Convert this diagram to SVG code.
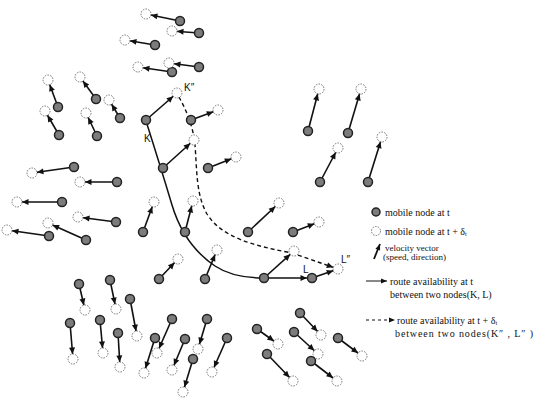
<svg xmlns="http://www.w3.org/2000/svg" width="536" height="398" viewBox="0 0 536 398">
<style>
.v{stroke:#111;stroke-width:1.6;fill:none;marker-end:url(#ah)}
.f{fill:#7c7c7c;stroke:#222;stroke-width:1.5}
.h{fill:#fff;stroke:#777;stroke-width:1;stroke-dasharray:1.6 1.2}
.lb{font-family:"Liberation Sans",Arial,sans-serif;font-size:10px;fill:#111}
.lg{font-family:"Liberation Serif","Times New Roman",serif;font-size:10px;fill:#111}
.sm{font-size:9px}
</style>
<defs>
<marker id="ah" markerUnits="userSpaceOnUse" markerWidth="14" markerHeight="8" refX="11.5" refY="3" orient="auto" overflow="visible"><path d="M0,0 L6.5,3 L0,6 z" fill="#111"/></marker>
<marker id="al" markerUnits="userSpaceOnUse" markerWidth="8" markerHeight="8" refX="6" refY="2.5" orient="auto" overflow="visible"><path d="M0,0 L6,2.5 L0,5 z" fill="#111"/></marker>
</defs>
<g id="connectors">
<line class="v" x1="180" y1="21" x2="146" y2="14"/>
<line class="v" x1="199" y1="33" x2="172" y2="31"/>
<line class="v" x1="155" y1="45" x2="125" y2="40"/>
<line class="v" x1="172" y1="72" x2="138" y2="67"/>
<line class="v" x1="199" y1="67" x2="169" y2="63"/>
<line class="v" x1="58" y1="107" x2="48" y2="80"/>
<line class="v" x1="96" y1="99" x2="80" y2="77"/>
<line class="v" x1="120" y1="118" x2="109" y2="100"/>
<line class="v" x1="59" y1="135" x2="45" y2="111"/>
<line class="v" x1="97" y1="136" x2="86" y2="113"/>
<line class="v" x1="74" y1="167" x2="32" y2="173"/>
<line class="v" x1="117" y1="182" x2="80" y2="182"/>
<line class="v" x1="62" y1="202" x2="17" y2="202"/>
<line class="v" x1="116" y1="222" x2="78" y2="217"/>
<line class="v" x1="86" y1="240" x2="48" y2="223"/>
<line class="v" x1="49" y1="236" x2="7" y2="230"/>
<line class="v" x1="146" y1="120" x2="177" y2="93"/>
<line class="v" x1="191" y1="120" x2="218" y2="110"/>
<line class="v" x1="163" y1="168" x2="194" y2="140"/>
<line class="v" x1="208" y1="168" x2="236" y2="157"/>
<line class="v" x1="143" y1="232" x2="154" y2="202"/>
<line class="v" x1="185" y1="232" x2="193" y2="201"/>
<line class="v" x1="248" y1="232" x2="279" y2="203"/>
<line class="v" x1="293" y1="232" x2="319" y2="222"/>
<line class="v" x1="159" y1="279" x2="178" y2="259"/>
<line class="v" x1="205" y1="279" x2="217" y2="250"/>
<line class="v" x1="264" y1="278" x2="294" y2="251"/>
<line class="v" x1="312" y1="278" x2="338" y2="269"/>
<line class="v" x1="308" y1="131" x2="319" y2="89"/>
<line class="v" x1="348" y1="133" x2="361" y2="89"/>
<line class="v" x1="320" y1="182" x2="338" y2="148"/>
<line class="v" x1="368" y1="182" x2="382" y2="137"/>
<line class="v" x1="79" y1="284" x2="85" y2="310"/>
<line class="v" x1="110" y1="280" x2="116" y2="309"/>
<line class="v" x1="130" y1="299" x2="137" y2="336"/>
<line class="v" x1="70" y1="323" x2="73" y2="359"/>
<line class="v" x1="100" y1="320" x2="103" y2="353"/>
<line class="v" x1="118" y1="333" x2="120" y2="367"/>
<line class="v" x1="172" y1="319" x2="157" y2="353"/>
<line class="v" x1="155" y1="338" x2="144" y2="373"/>
<line class="v" x1="185" y1="339" x2="172" y2="370"/>
<line class="v" x1="207" y1="319" x2="198" y2="349"/>
<line class="v" x1="193" y1="359" x2="183" y2="392"/>
<line class="v" x1="227" y1="338" x2="212" y2="372"/>
<line class="v" x1="257" y1="329" x2="278" y2="344"/>
<line class="v" x1="267" y1="354" x2="293" y2="381"/>
<line class="v" x1="300" y1="313" x2="321" y2="335"/>
<line class="v" x1="294" y1="332" x2="318" y2="354"/>
<line class="v" x1="311" y1="361" x2="337" y2="381"/>
<line class="v" x1="338" y1="338" x2="362" y2="356"/>
<path d="M146,121 Q160,165 172,205 T215,266 C230,276 248,278 264,278" fill="none" stroke="#111" stroke-width="1.5"/>
<line class="v" x1="264" y1="278" x2="312" y2="278" stroke-width="1.5"/>
<path d="M179,97 C186,110 193,125 195,145 C197,170 196,195 207,214 C222,238 255,246 292,253 L338,269" fill="none" stroke="#111" stroke-width="1.4" stroke-dasharray="4 3" marker-end="url(#ah)"/>
</g>
<g id="m1"><circle class="f" cx="180" cy="21" r="4.5"/><circle class="h" cx="146" cy="14" r="5"/></g>
<g id="m2"><circle class="f" cx="199" cy="33" r="4.5"/><circle class="h" cx="172" cy="31" r="5"/></g>
<g id="m3"><circle class="f" cx="155" cy="45" r="4.5"/><circle class="h" cx="125" cy="40" r="5"/></g>
<g id="m4"><circle class="f" cx="172" cy="72" r="4.5"/><circle class="h" cx="138" cy="67" r="5"/></g>
<g id="m5"><circle class="f" cx="199" cy="67" r="4.5"/><circle class="h" cx="169" cy="63" r="5"/></g>
<g id="m6"><circle class="f" cx="58" cy="107" r="4.5"/><circle class="h" cx="48" cy="80" r="5"/></g>
<g id="m7"><circle class="f" cx="96" cy="99" r="4.5"/><circle class="h" cx="80" cy="77" r="5"/></g>
<g id="m8"><circle class="f" cx="120" cy="118" r="4.5"/><circle class="h" cx="109" cy="100" r="5"/></g>
<g id="m9"><circle class="f" cx="59" cy="135" r="4.5"/><circle class="h" cx="45" cy="111" r="5"/></g>
<g id="m10"><circle class="f" cx="97" cy="136" r="4.5"/><circle class="h" cx="86" cy="113" r="5"/></g>
<g id="m11"><circle class="f" cx="74" cy="167" r="4.5"/><circle class="h" cx="32" cy="173" r="5"/></g>
<g id="m12"><circle class="f" cx="117" cy="182" r="4.5"/><circle class="h" cx="80" cy="182" r="5"/></g>
<g id="m13"><circle class="f" cx="62" cy="202" r="4.5"/><circle class="h" cx="17" cy="202" r="5"/></g>
<g id="m14"><circle class="f" cx="116" cy="222" r="4.5"/><circle class="h" cx="78" cy="217" r="5"/></g>
<g id="m15"><circle class="f" cx="86" cy="240" r="4.5"/><circle class="h" cx="48" cy="223" r="5"/></g>
<g id="m16"><circle class="f" cx="49" cy="236" r="4.5"/><circle class="h" cx="7" cy="230" r="5"/></g>
<g id="nodeK"><circle class="f" cx="146" cy="120" r="4.5"/><circle class="h" cx="177" cy="93" r="5"/><text class="lb" x="184" y="91">K″</text><text class="lb" x="144" y="142">K</text></g>
<g id="m18"><circle class="f" cx="191" cy="120" r="4.5"/><circle class="h" cx="218" cy="110" r="5"/></g>
<g id="m19"><circle class="f" cx="163" cy="168" r="4.5"/><circle class="h" cx="194" cy="140" r="5"/></g>
<g id="m20"><circle class="f" cx="208" cy="168" r="4.5"/><circle class="h" cx="236" cy="157" r="5"/></g>
<g id="m21"><circle class="f" cx="143" cy="232" r="4.5"/><circle class="h" cx="154" cy="202" r="5"/></g>
<g id="m22"><circle class="f" cx="185" cy="232" r="4.5"/><circle class="h" cx="193" cy="201" r="5"/></g>
<g id="m23"><circle class="f" cx="248" cy="232" r="4.5"/><circle class="h" cx="279" cy="203" r="5"/></g>
<g id="m24"><circle class="f" cx="293" cy="232" r="4.5"/><circle class="h" cx="319" cy="222" r="5"/></g>
<g id="m25"><circle class="f" cx="159" cy="279" r="4.5"/><circle class="h" cx="178" cy="259" r="5"/></g>
<g id="m26"><circle class="f" cx="205" cy="279" r="4.5"/><circle class="h" cx="217" cy="250" r="5"/></g>
<g id="m27"><circle class="f" cx="264" cy="278" r="4.5"/><circle class="h" cx="294" cy="251" r="5"/></g>
<g id="nodeL"><circle class="f" cx="312" cy="278" r="4.5"/><circle class="h" cx="338" cy="269" r="5"/><text class="lb" x="303" y="273">L</text><text class="lb" x="341" y="263">L″</text></g>
<g id="m29"><circle class="f" cx="308" cy="131" r="4.5"/><circle class="h" cx="319" cy="89" r="5"/></g>
<g id="m30"><circle class="f" cx="348" cy="133" r="4.5"/><circle class="h" cx="361" cy="89" r="5"/></g>
<g id="m31"><circle class="f" cx="320" cy="182" r="4.5"/><circle class="h" cx="338" cy="148" r="5"/></g>
<g id="m32"><circle class="f" cx="368" cy="182" r="4.5"/><circle class="h" cx="382" cy="137" r="5"/></g>
<g id="m33"><circle class="f" cx="79" cy="284" r="4.5"/><circle class="h" cx="85" cy="310" r="5"/></g>
<g id="m34"><circle class="f" cx="110" cy="280" r="4.5"/><circle class="h" cx="116" cy="309" r="5"/></g>
<g id="m35"><circle class="f" cx="130" cy="299" r="4.5"/><circle class="h" cx="137" cy="336" r="5"/></g>
<g id="m36"><circle class="f" cx="70" cy="323" r="4.5"/><circle class="h" cx="73" cy="359" r="5"/></g>
<g id="m37"><circle class="f" cx="100" cy="320" r="4.5"/><circle class="h" cx="103" cy="353" r="5"/></g>
<g id="m38"><circle class="f" cx="118" cy="333" r="4.5"/><circle class="h" cx="120" cy="367" r="5"/></g>
<g id="m39"><circle class="f" cx="172" cy="319" r="4.5"/><circle class="h" cx="157" cy="353" r="5"/></g>
<g id="m40"><circle class="f" cx="155" cy="338" r="4.5"/><circle class="h" cx="144" cy="373" r="5"/></g>
<g id="m41"><circle class="f" cx="185" cy="339" r="4.5"/><circle class="h" cx="172" cy="370" r="5"/></g>
<g id="m42"><circle class="f" cx="207" cy="319" r="4.5"/><circle class="h" cx="198" cy="349" r="5"/></g>
<g id="m43"><circle class="f" cx="193" cy="359" r="4.5"/><circle class="h" cx="183" cy="392" r="5"/></g>
<g id="m44"><circle class="f" cx="227" cy="338" r="4.5"/><circle class="h" cx="212" cy="372" r="5"/></g>
<g id="m45"><circle class="f" cx="257" cy="329" r="4.5"/><circle class="h" cx="278" cy="344" r="5"/></g>
<g id="m46"><circle class="f" cx="267" cy="354" r="4.5"/><circle class="h" cx="293" cy="381" r="5"/></g>
<g id="m47"><circle class="f" cx="300" cy="313" r="4.5"/><circle class="h" cx="321" cy="335" r="5"/></g>
<g id="m48"><circle class="f" cx="294" cy="332" r="4.5"/><circle class="h" cx="318" cy="354" r="5"/></g>
<g id="m49"><circle class="f" cx="311" cy="361" r="4.5"/><circle class="h" cx="337" cy="381" r="5"/></g>
<g id="m50"><circle class="f" cx="338" cy="338" r="4.5"/><circle class="h" cx="362" cy="356" r="5"/></g>
<g id="legend">
<circle class="f" cx="376" cy="212" r="4"/>
<text class="lg" x="385" y="215.5">mobile node at  t</text>
<circle class="h" cx="376" cy="231" r="4.5"/>
<text class="lg" x="385" y="234.5">mobile node at  t + δ<tspan font-size="6.5" dy="1.5">t</tspan></text>
<line x1="374" y1="259" x2="380" y2="244" stroke="#111" stroke-width="1.8" marker-end="url(#al)"/>
<text class="lg sm" x="385" y="251">velocity  vector</text>
<text class="lg sm" x="383" y="260">(speed, direction)</text>
<line x1="366" y1="281" x2="387" y2="281" stroke="#111" stroke-width="1" marker-end="url(#al)"/>
<text class="lg" x="390" y="284.5">route availability at t</text>
<text class="lg" x="390" y="297.5">between two nodes(K, L)</text>
<line x1="366" y1="320" x2="395" y2="320" stroke="#111" stroke-width="1" stroke-dasharray="3 3" marker-end="url(#al)"/>
<text class="lg" x="397" y="323.5">route availability at t + δ<tspan font-size="6.5" dy="1.5">t</tspan></text>
<text class="lg" x="395" y="336.5" textLength="138" lengthAdjust="spacing">between two nodes(K″ , L″ )</text>
</g>
</svg>
